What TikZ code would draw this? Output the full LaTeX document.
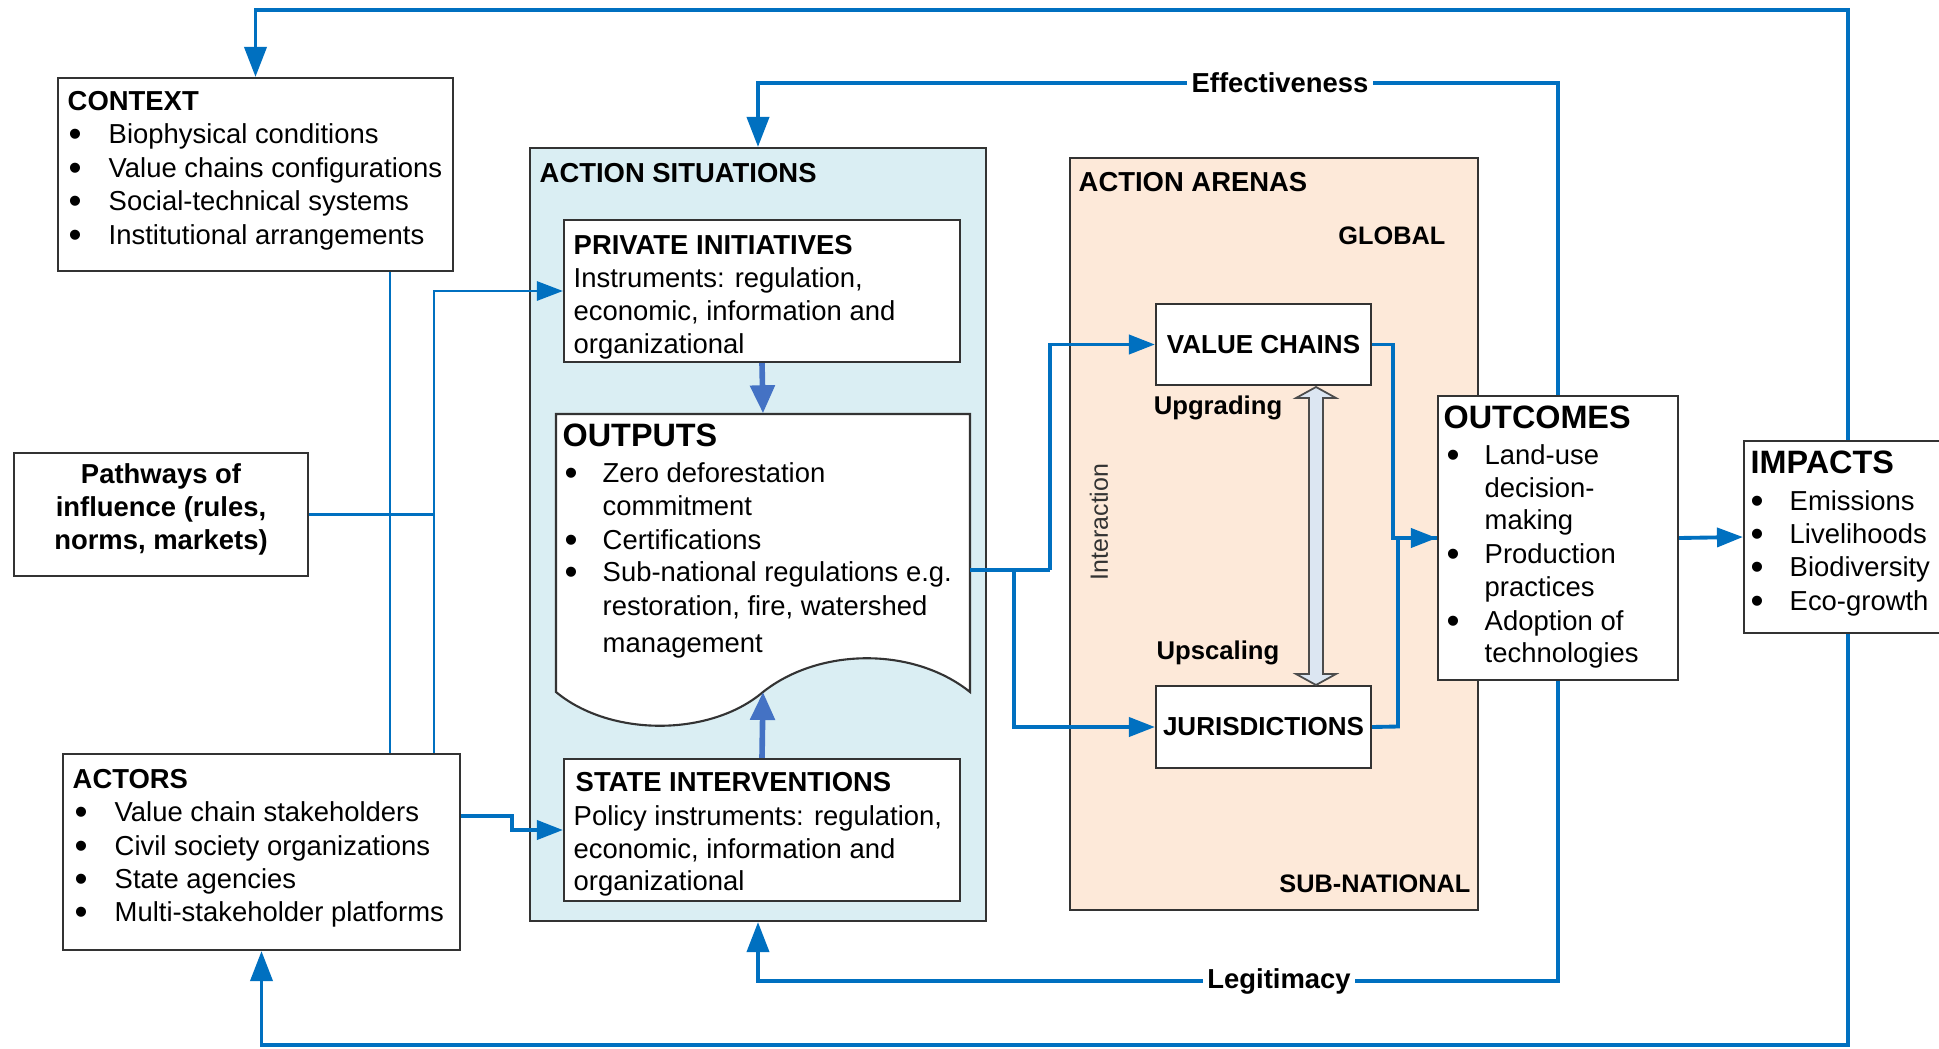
\documentclass[tikz,border=0pt]{standalone}
\usepackage{fontspec}
\setmainfont{Liberation Sans}
\usetikzlibrary{arrows.meta,fit}

\definecolor{flow}{HTML}{0070C0}
\definecolor{innerflow}{HTML}{4472C4}
\definecolor{sitfill}{HTML}{DAEEF3}
\definecolor{arenafill}{HTML}{FDE9D9}
\definecolor{dblfill}{HTML}{DCE6F2}

\newcommand{\fsz}[1]{\fontsize{#1}{9.4}\selectfont}
\newcommand{\bigdot}{\raisebox{-0.9pt}{\scalebox{1.35}{\textbullet}}}

\begin{document}
\begin{tikzpicture}[x=0.01cm, y=-0.01cm,
  box/.style={draw=black!80, line width=0.6pt, fill=white, inner sep=0pt},
  flowline/.style={draw=flow, line width=1.1pt},
  thinflow/.style={draw=flow, line width=0.8pt},
  innerarrow/.style={draw=innerflow, line width=1.6pt, -{Triangle[length=2.8mm,width=2.4mm]}},
  tip/.style={-{Triangle[length=2.6mm,width=1.9mm]}},
  bigtip/.style={-{Triangle[length=3mm,width=2.2mm]}},
  txt/.style={anchor=base west, inner sep=0pt, font=\fsz{7.8}},
  dot/.style={anchor=base west, inner sep=0pt, font=\fsz{7.8}},
  ttl/.style={anchor=base west, inner sep=0pt, font=\bfseries\fsz{7.8}},
  bigttl/.style={anchor=base west, inner sep=0pt, font=\bfseries\fsz{9.2}},
  lbl/.style={fill=white, inner sep=1.2pt, font=\bfseries\fsz{7.8}},
]
\useasboundingbox (0,0) rectangle (1939,1048);
\fill[white] (0,0) rectangle (1939,1048);
\clip (0,0) rectangle (1939,1048);

% helper coordinates for routing
\coordinate (topY) at (0,10);
\coordinate (effY) at (0,83);
\coordinate (legY) at (0,981);
\coordinate (botY) at (0,1045);
\coordinate (ctxX) at (390,0);
\coordinate (pathX) at (434,0);
\coordinate (actY) at (0,816);

% ---------- CONTEXT ----------
\node[box, fit={(58,78)(453,271)}] (context) {};
\node[ttl] (ctxh) at (67,110) {CONTEXT};
\foreach \t/\yy [count=\i] in {Biophysical conditions/143, Value chains configurations/177,
    Social-technical systems/210, Institutional arrangements/244}{
  \node[dot] (ctxd\i) at (68,\yy) {\bigdot};
  \node[txt] (ctx\i) at (108,\yy) {\t};
}

% ---------- Pathways ----------
\node[box, fit={(14,453)(308,576)}] (path) {};
\node[font=\bfseries\fsz{7.8}, align=center, inner sep=0pt] (pathtxt) at (161,509)
  {Pathways of\\influence (rules,\\norms, markets)};

% ---------- ACTORS ----------
\node[box, fit={(63,754)(460,950)}] (actors) {};
\node[ttl] (acth) at (72,788) {ACTORS};
\foreach \t/\yy [count=\i] in {Value chain stakeholders/821, Civil society organizations/855,
    State agencies/888, Multi-stakeholder platforms/921}{
  \node[dot] (actd\i) at (74,\yy) {\bigdot};
  \node[txt] (act\i) at (114,\yy) {\t};
}

% ---------- ACTION SITUATIONS ----------
\node[box, fill=sitfill, fit={(530,148)(986,921)}] (as) {};
\node[ttl] (ash) at (539,182) {ACTION SITUATIONS};

\node[box, fit={(564,220)(960,362)}] (priv) {};
\node[ttl] (privh) at (573,254) {PRIVATE INITIATIVES};
\node[txt] (priv1) at (573,287) {Instruments: regulation,};
\node[txt] (priv2) at (573,320) {economic, information and};
\node[txt] (priv3) at (573,353) {organizational};

% outputs: document shape with wavy lower edge
\draw[draw=black!80, line width=0.6pt, fill=white]
  (556,414) -- (970,414) -- (970,692)
  .. controls (914,647) and (820,647) .. (763,692)
  .. controls (710,737) and (610,737) .. (556,692) -- cycle;
\node[inner sep=0pt, fit={(556,414)(970,692)}] (outputs) {};
\coordinate (wave) at (763,692);
\node[bigttl] (outh) at (562,446) {OUTPUTS};
\node[dot] (outd1) at (564,482) {\bigdot};
\node[dot] (outd2) at (564,549) {\bigdot};
\node[dot] (outd3) at (564,581) {\bigdot};
\node[txt] (out1) at (602,482) {Zero deforestation};
\node[txt] (out2) at (602,515) {commitment};
\node[txt] (out3) at (602,549) {Certifications};
\node[txt] (out4) at (602,581) {Sub-national regulations e.g.};
\node[txt] (out5) at (602,615) {restoration, fire, watershed};
\node[txt] (out6) at (602,652) {management};

\node[box, fit={(564,759)(960,901)}] (state) {};
\node[ttl] (stateh) at (575,791) {STATE INTERVENTIONS};
\node[txt] (state1) at (573,825) {Policy instruments: regulation,};
\node[txt] (state2) at (573,858) {economic, information and};
\node[txt] (state3) at (573,890) {organizational};

% ---------- ACTION ARENAS ----------
\node[box, fill=arenafill, fit={(1070,158)(1478,910)}] (arena) {};
\node[ttl] (arenah) at (1078,191) {ACTION ARENAS};
\node[anchor=base east, inner sep=0pt, font=\bfseries\fsz{7.2}] (global) at (1446,244) {GLOBAL};
\node[anchor=base east, inner sep=0pt, font=\bfseries\fsz{7.2}] (subnat) at (1471,892) {SUB-NATIONAL};

\node[box, fit={(1156,304)(1371,385)}] (vc) {};
\node[font=\bfseries\fsz{7.4}, inner sep=0pt] (vctxt) at (vc.center) {VALUE CHAINS};
\node[box, fit={(1156,686)(1371,768)}] (jur) {};
\node[font=\bfseries\fsz{7.4}, inner sep=0pt] (jurtxt) at (jur.center) {JURISDICTIONS};

\node[font=\bfseries\fsz{7.3}, inner sep=0pt] (upg) at (1218,408) {Upgrading};
\node[font=\bfseries\fsz{7.3}, inner sep=0pt] (ups) at (1218,653) {Upscaling};
\node[rotate=90, font=\fsz{7.1}, text=black!80, inner sep=0pt] (inter) at (1099,522) {Interaction};

% hollow two-headed arrow between the two arenas
\draw[draw=black!70, line width=0.5pt, fill=dblfill]
  (1316,387) -- (1336,398) -- (1323,398) -- (1323,674) -- (1336,674)
  -- (1316,685) -- (1296,674) -- (1309,674) -- (1309,398) -- (1296,398) -- cycle;

% ---------- OUTCOMES ----------
\node[box, fit={(1438,396)(1678,680)}] (outcomes) {};
\node[bigttl] (outch) at (1443,428) {OUTCOMES};
\node[dot] (outcd1) at (1446,464) {\bigdot};
\node[dot] (outcd2) at (1446,563) {\bigdot};
\node[dot] (outcd3) at (1446,630) {\bigdot};
\node[txt] (outc1) at (1484,464) {Land-use};
\node[txt] (outc2) at (1484,497) {decision-};
\node[txt] (outc3) at (1484,529) {making};
\node[txt] (outc4) at (1484,563) {Production};
\node[txt] (outc5) at (1484,596) {practices};
\node[txt] (outc6) at (1484,630) {Adoption of};
\node[txt] (outc7) at (1484,662) {technologies};

% ---------- IMPACTS ----------
\node[box, fit={(1744,441)(1952,633)}] (impacts) {};
\node[bigttl] (imph) at (1750,473) {IMPACTS};
\foreach \t/\yy [count=\i] in {Emissions/510, Livelihoods/543, Biodiversity/576, Eco-growth/610}{
  \node[dot] (impd\i) at (1750,\yy) {\bigdot};
  \node[txt] (imp\i) at (1789,\yy) {\t};
}

% ---------- connectors ----------
% context and pathways feeding the action situations
\draw[thinflow] (context.south -| ctxX) -- (actors.north -| ctxX);
\draw[thinflow] (path.east) -- (path.east -| pathX);
\draw[thinflow, tip] (actors.north -| pathX) |- (priv.west);
\draw[flowline, tip] (actors.east |- actY) -- (512,816) -- (512,830) -- (state.west);

% inside the action situations
\draw[innerarrow] (priv.south) -- (outputs.north);
\draw[innerarrow] (state.north) -- (wave);

% outputs into the action arenas
\coordinate (outR) at (970,570);
\coordinate (splitA) at (1014,570);
\coordinate (splitB) at (1050,570);
\draw[flowline] (outR) -- (splitB);
\draw[flowline, tip] (splitB) |- (vc.west);
\draw[flowline, tip] (splitA) |- (jur.west);

% arenas into outcomes
\draw[flowline] (jur.east) -- (1398,726.5) |- (outcomes.west);
\draw[flowline, tip] (vc.east) -- (1393,344.5) |- (outcomes.west);
\draw[flowline, tip] (outcomes.east) -- (impacts.west);

% feedback loops
\draw[flowline, bigtip] (outcomes.north) |- (as.north |- effY) -- (as.north);
\node[lbl] (eff) at (1280,83) {Effectiveness};
\draw[flowline, bigtip] (outcomes.south) |- (as.south |- legY) -- (as.south);
\node[lbl] (leg) at (1279,981) {Legitimacy};
\draw[flowline, bigtip] (impacts.north) |- (context.north |- topY) -- (context.north);
\draw[flowline, bigtip] (impacts.south) |- (actors.south |- botY) -- (actors.south);
\end{tikzpicture}
\end{document}
